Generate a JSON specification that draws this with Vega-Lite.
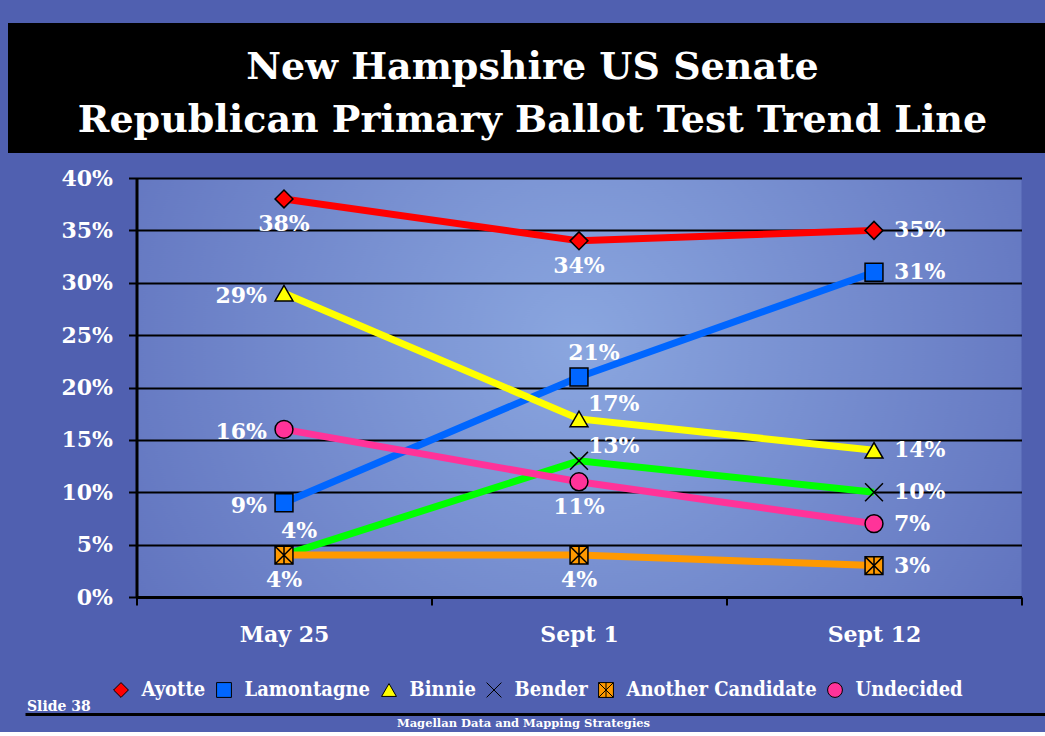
{
  "$schema": "https://vega.github.io/schema/vega-lite/v6.json",
  "description": "New Hampshire US Senate Republican primary ballot test trend line.",
  "background": "#5060b0",
  "padding": {"left": 8, "top": 23, "right": 0, "bottom": 0},
  "spacing": 0,
  "center": true,
  "config": {
    "view": {"stroke": null},
    "font": "DejaVu Serif"
  },
  "resolve": {
    "scale": {"stroke": "independent", "fill": "independent", "shape": "independent"},
    "legend": {"stroke": "independent", "fill": "independent", "shape": "independent"}
  },
  "datasets": {
    "polls": [
      {"date": "May 25", "candidate": "Ayotte", "share": 0.38},
      {"date": "Sept 1", "candidate": "Ayotte", "share": 0.34},
      {"date": "Sept 12", "candidate": "Ayotte", "share": 0.35},
      {"date": "May 25", "candidate": "Lamontagne", "share": 0.09},
      {"date": "Sept 1", "candidate": "Lamontagne", "share": 0.21},
      {"date": "Sept 12", "candidate": "Lamontagne", "share": 0.31},
      {"date": "May 25", "candidate": "Binnie", "share": 0.29},
      {"date": "Sept 1", "candidate": "Binnie", "share": 0.17},
      {"date": "Sept 12", "candidate": "Binnie", "share": 0.14},
      {"date": "May 25", "candidate": "Bender", "share": 0.04},
      {"date": "Sept 1", "candidate": "Bender", "share": 0.13},
      {"date": "Sept 12", "candidate": "Bender", "share": 0.10},
      {"date": "May 25", "candidate": "Another Candidate", "share": 0.04},
      {"date": "Sept 1", "candidate": "Another Candidate", "share": 0.04},
      {"date": "Sept 12", "candidate": "Another Candidate", "share": 0.03},
      {"date": "May 25", "candidate": "Undecided", "share": 0.16},
      {"date": "Sept 1", "candidate": "Undecided", "share": 0.11},
      {"date": "Sept 12", "candidate": "Undecided", "share": 0.07}
    ]
  },
  "vconcat": [
    {
      "width": 1143,
      "height": 130,
      "view": {"fill": "black", "stroke": null},
      "data": {"values": [
        {"line": 1, "text": "New Hampshire US Senate"},
        {"line": 2, "text": "Republican Primary Ballot Test Trend Line"}
      ]},
      "mark": {"type": "text", "font": "DejaVu Serif", "fontWeight": "bold", "fontSize": 38, "color": "white", "dx": -47},
      "encoding": {
        "y": {"field": "line", "type": "ordinal", "axis": null, "scale": {"type": "point", "padding": 0.726, "align": 0.58}},
        "text": {"field": "text"}
      }
    },
    {
      "width": 885,
      "height": 419,
      "title": {"text": " ", "fontSize": 10, "offset": 4},
      "view": {
        "stroke": null,
        "fill": {
          "gradient": "radial",
          "x1": 0.5, "y1": 0.45, "x2": 0.5, "y2": 0.45,
          "r1": 0, "r2": 0.75,
          "stops": [
            {"offset": 0, "color": "#8aa6df"},
            {"offset": 1, "color": "#5565b5"}
          ]
        }
      },
      "data": {"name": "polls"},
      "encoding": {
        "x": {
          "field": "date",
          "type": "ordinal",
          "sort": ["May 25", "Sept 1", "Sept 12"],
          "scale": {"type": "band", "paddingInner": 0, "paddingOuter": 0},
          "axis": {
            "title": null,
            "labelAngle": 0,
            "labelFont": "DejaVu Serif",
            "labelFontWeight": "bold",
            "labelFontSize": 22,
            "labelColor": "white",
            "labelPadding": 19,
            "tickBand": "extent",
            "tickColor": "black",
            "tickSize": 8,
            "tickWidth": 2,
            "domainColor": "black",
            "domainWidth": 3,
            "grid": false
          }
        },
        "y": {
          "field": "share",
          "type": "quantitative",
          "scale": {"domain": [0, 0.4]},
          "axis": {
            "title": null,
            "format": ".0%",
            "values": [0, 0.05, 0.1, 0.15, 0.2, 0.25, 0.3, 0.35, 0.4],
            "labelFont": "DejaVu Serif",
            "labelFontWeight": "bold",
            "labelFontSize": 22,
            "labelColor": "white",
            "labelPadding": 16,
            "tickColor": "black",
            "tickSize": 8,
            "tickWidth": 2,
            "domainColor": "black",
            "domainWidth": 3,
            "grid": true,
            "gridColor": "black",
            "gridWidth": 2,
            "gridOpacity": 1
          }
        }
      },
      "layer": [
        {
          "mark": {"type": "line", "strokeWidth": 7},
          "encoding": {
            "stroke": {
              "field": "candidate",
              "type": "nominal",
              "scale": {
                "domain": ["Ayotte", "Lamontagne", "Binnie", "Bender", "Another Candidate", "Undecided", "-"],
                "range": ["#ff0000", "#0066ff", "#ffff00", "#00ff00", "#ff9900", "#ff3399", "#000000"]
              },
              "legend": null
            }
          }
        },
        {
          "mark": {"type": "point", "filled": true, "size": 320, "opacity": 1, "stroke": "black", "strokeWidth": 1.5},
          "encoding": {
            "fill": {
              "field": "candidate",
              "type": "nominal",
              "scale": {
                "domain": ["Ayotte", "Lamontagne", "Binnie", "Bender", "Another Candidate", "Undecided"],
                "range": ["#ff0000", "#0066ff", "#ffff00", "#00ff00", "#ff9900", "#ff3399"]
              },
              "legend": {
                "title": null,
                "orient": "none",
                "legendX": -25.5,
                "legendY": 502,
                "direction": "horizontal",
                "columns": 6,
                "symbolSize": 220,
                "symbolStrokeWidth": 1,
                "columnPadding": 8,
                "labelOffset": 10.5,
                "labelColor": "white",
                "labelFont": "DejaVu Serif Condensed",
                "labelFontWeight": "bold",
                "labelFontSize": 20,
                "labelLimit": 300,
                "encode": {
                  "symbols": {
                    "update": {
                      "stroke": {"value": "black"},
                      "strokeWidth": {"value": 1},
                      "shape": {"signal": "datum.value == 'Ayotte' ? 'M-2.36,-0.47H-0.95V0.47H-2.36Z M0.95,-0.47H2.36V0.47H0.95Z M0,-1L1,0L0,1L-1,0Z' : datum.value == 'Lamontagne' ? 'M-2.36,-0.47H-0.95V0.47H-2.36Z M0.95,-0.47H2.36V0.47H0.95Z M-0.95,-0.95H0.95V0.95H-0.95Z' : datum.value == 'Binnie' ? 'M-2.36,-0.47H-0.8V0.47H-2.36Z M0.8,-0.47H2.36V0.47H0.8Z M0,-1L1,0.8H-1Z' : datum.value == 'Bender' ? 'M-2.36,-0.47H2.36V0.47H-2.36Z M-0.85,-0.85L0.85,0.85M-0.85,0.85L0.85,-0.85' : datum.value == 'Another Candidate' ? 'M-2.36,-0.47H2.36V0.47H-2.36Z M-0.85,-0.85L0.85,0.85M-0.85,0.85L0.85,-0.85M0,-0.9V0.9' : 'M-2.36,-0.47H-0.95V0.47H-2.36Z M0.95,-0.47H2.36V0.47H0.95Z M-0.95,0A0.95,0.95 0 1,0 0.95,0A0.95,0.95 0 1,0 -0.95,0Z'"}
                    }
                  }
                }
              }
            },
            "shape": {
              "field": "candidate",
              "type": "nominal",
              "scale": {
                "domain": ["Ayotte", "Lamontagne", "Binnie", "Bender", "Another Candidate", "Undecided"],
                "range": [
                  "diamond",
                  "square",
                  "triangle-up",
                  "M-1,-1L1,1M-1,1L1,-1",
                  "M-1,-1H1V1H-1Z M-1,-1L1,1M-1,1L1,-1M0,-1V1",
                  "circle"
                ]
              }
            }
          }
        },
        {
          "transform": [{"filter": "datum.date == 'Sept 12'"}],
          "mark": {"type": "text", "align": "left", "baseline": "middle", "dx": 20, "font": "DejaVu Serif", "fontWeight": "bold", "fontSize": 22, "color": "white"},
          "encoding": {"text": {"field": "share", "format": ".0%"}}
        },
        {
          "transform": [{"filter": "(datum.date == 'May 25' && (datum.candidate == 'Ayotte' || datum.candidate == 'Another Candidate')) || (datum.date == 'Sept 1' && (datum.candidate == 'Ayotte' || datum.candidate == 'Another Candidate' || datum.candidate == 'Undecided'))"}],
          "mark": {"type": "text", "align": "center", "baseline": "middle", "dy": 25, "font": "DejaVu Serif", "fontWeight": "bold", "fontSize": 22, "color": "white"},
          "encoding": {"text": {"field": "share", "format": ".0%"}}
        },
        {
          "transform": [{"filter": "datum.date == 'May 25' && (datum.candidate == 'Lamontagne' || datum.candidate == 'Binnie' || datum.candidate == 'Undecided')"}],
          "mark": {"type": "text", "align": "right", "baseline": "middle", "dx": -17, "dy": 3, "font": "DejaVu Serif", "fontWeight": "bold", "fontSize": 22, "color": "white"},
          "encoding": {"text": {"field": "share", "format": ".0%"}}
        },
        {
          "transform": [{"filter": "(datum.date == 'May 25' && datum.candidate == 'Bender') || (datum.date == 'Sept 1' && datum.candidate == 'Lamontagne')"}],
          "mark": {"type": "text", "align": "center", "baseline": "middle", "dx": 15, "dy": -24, "font": "DejaVu Serif", "fontWeight": "bold", "fontSize": 22, "color": "white"},
          "encoding": {"text": {"field": "share", "format": ".0%"}}
        },
        {
          "transform": [{"filter": "datum.date == 'Sept 1' && (datum.candidate == 'Binnie' || datum.candidate == 'Bender')"}],
          "mark": {"type": "text", "align": "left", "baseline": "middle", "dx": 9, "dy": -15, "font": "DejaVu Serif", "fontWeight": "bold", "fontSize": 22, "color": "white"},
          "encoding": {"text": {"field": "share", "format": ".0%"}}
        }
      ]
    },
    {
      "width": 1109,
      "height": 18,
      "title": {"text": "Slide 38", "anchor": "start", "orient": "top", "font": "DejaVu Serif", "fontWeight": "bold", "fontSize": 14, "color": "white", "offset": 0, "dx": 2},
      "data": {"values": [{"credit": "Magellan Data and Mapping Strategies"}]},
      "mark": {"type": "text", "font": "DejaVu Serif", "fontWeight": "bold", "fontSize": 11.5, "color": "white", "dx": -56, "dy": 1},
      "encoding": {
        "x": {
          "field": "credit",
          "type": "nominal",
          "scale": {"type": "point", "padding": 0.5},
          "axis": {"orient": "top", "title": null, "labels": false, "ticks": false, "grid": false, "domainColor": "black", "domainWidth": 3}
        },
        "text": {"field": "credit"}
      }
    }
  ]
}
